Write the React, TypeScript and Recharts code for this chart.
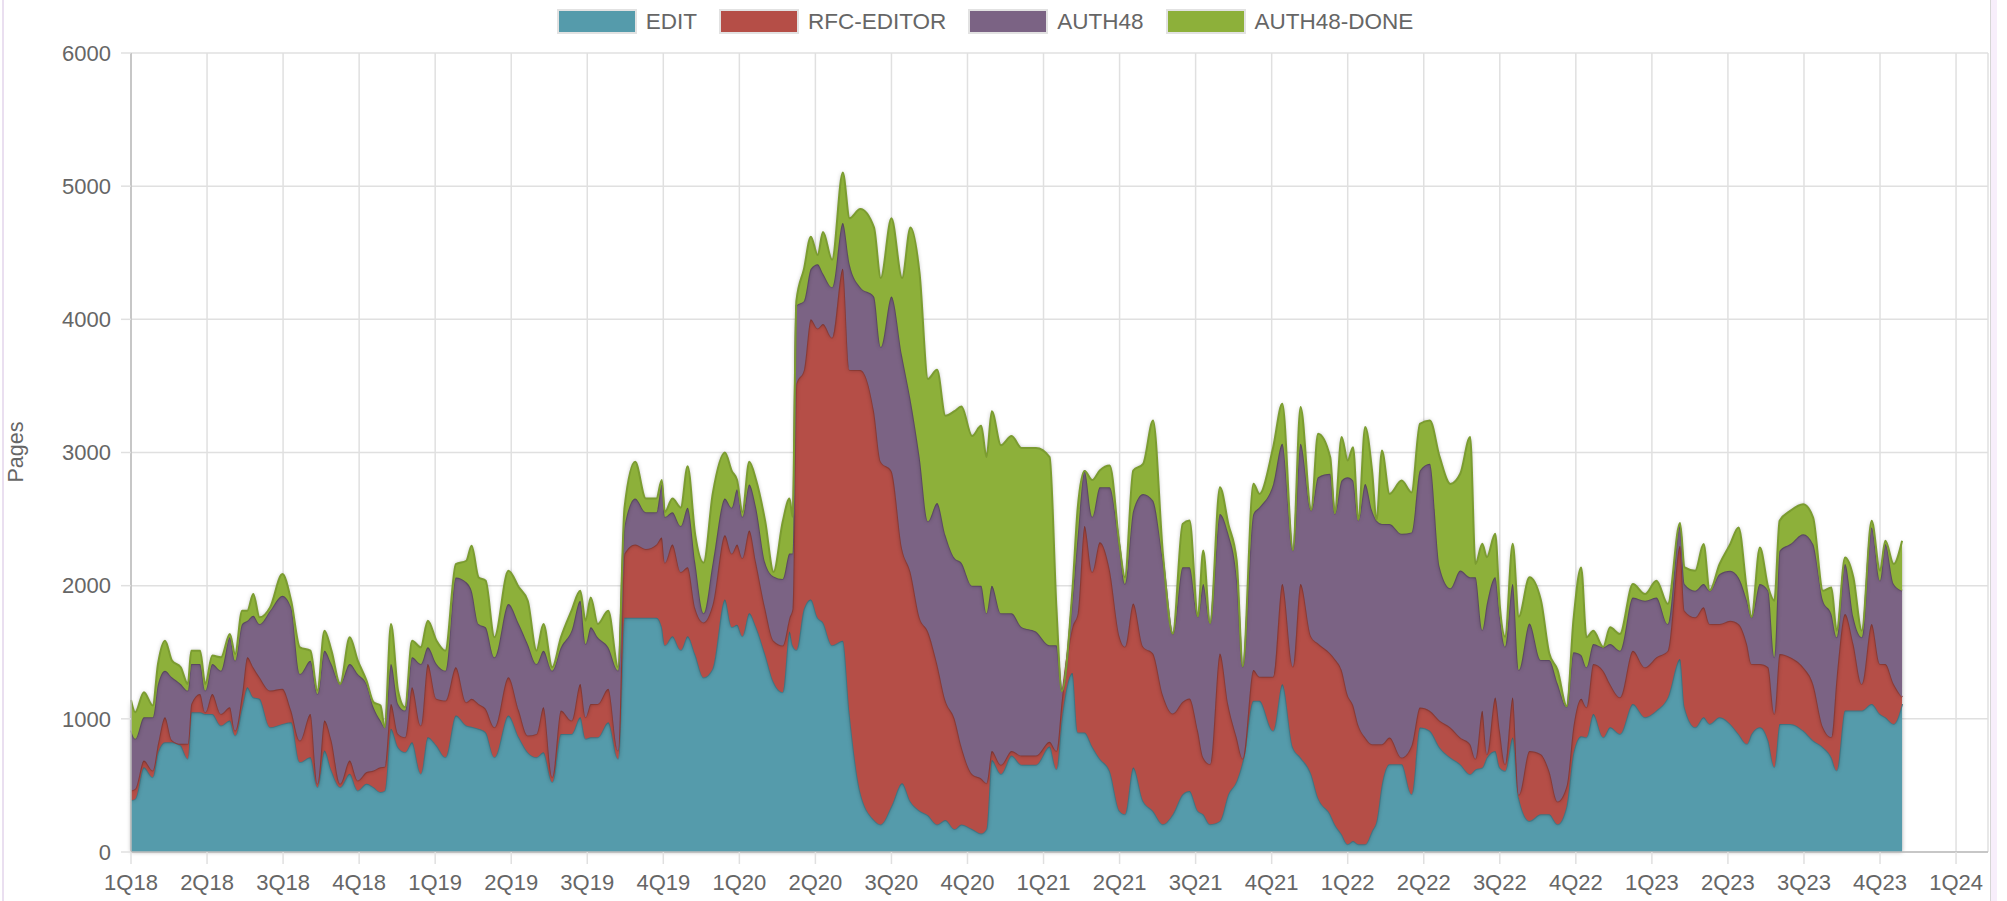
import React from "react";
import { AreaChart, Area, XAxis, YAxis, CartesianGrid } from "recharts";

// position of each sample, in quarters counted from 1Q18
const weekPos = [
  0, 0.055, 0.17, 0.286, 0.355, 0.447, 0.539, 0.654, 0.747, 0.793,
  0.908, 0.977, 1.069, 1.184, 1.3, 1.369, 1.461, 1.53, 1.608, 1.691,
  1.829, 1.991, 2.106, 2.221, 2.359, 2.452, 2.544, 2.636, 2.751, 2.876,
  2.982, 3.097, 3.189, 3.281, 3.336, 3.419, 3.512, 3.604, 3.696, 3.811,
  3.903, 4.018, 4.134, 4.272, 4.41, 4.479, 4.571, 4.664, 4.779, 4.963,
  5.101, 5.217, 5.332, 5.424, 5.539, 5.654, 5.793, 5.908, 5.977, 6.046,
  6.138, 6.276, 6.406,
  6.49, 6.63, 6.77, 6.91, 6.98, 7.02, 7.12, 7.23, 7.32, 7.42,
  7.53, 7.65, 7.81, 7.9, 7.97, 8.04, 8.13, 8.22, 8.34, 8.45,
  8.57, 8.66, 8.7, 8.75, 8.85, 8.94, 9.03, 9.1, 9.22, 9.36,
  9.45, 9.59, 9.77, 9.86, 10, 10.14, 10.25, 10.37, 10.48, 10.6,
  10.71, 10.83, 10.92, 11.06, 11.18, 11.25, 11.32, 11.44, 11.58, 11.71,
  11.9, 12.08, 12.17, 12.24, 12.38, 12.45, 12.54, 12.64,
  12.74, 12.87, 13, 13.07, 13.18, 13.31, 13.44, 13.57, 13.7, 13.83,
  13.92, 14.03, 14.1, 14.19, 14.32, 14.43, 14.54, 14.62, 14.76, 14.84,
  15.02, 15.14, 15.28, 15.38, 15.52, 15.61, 15.77, 15.83, 15.92, 16,
  16.07, 16.14, 16.23, 16.32, 16.38, 16.45, 16.55, 16.71, 16.84, 16.95,
  17.08, 17.21, 17.35, 17.48, 17.61, 17.68, 17.77, 17.83, 17.94, 18,
  18.07, 18.17, 18.25, 18.39, 18.54, 18.65,
  18.76, 18.88, 18.97, 19.07, 19.14, 19.23, 19.36, 19.45, 19.58, 19.75,
  19.91, 20.06, 20.21, 20.37, 20.43, 20.57, 20.68, 20.76, 20.89, 21.03,
  21.14, 21.25, 21.31, 21.42, 21.53, 21.61, 21.68, 21.82, 21.99, 22.12,
  22.25, 22.36, 22.43, 22.54, 22.65, 22.76, 22.89, 23, 23.07, 23.18,
  23.29,
];

const edit = [
  388, 400, 637, 562, 750, 825, 825, 800, 700, 1050,
  1050, 1037, 1037, 950, 987, 875, 1087, 1237, 1162, 1150,
  937, 962, 975, 675, 712, 487, 762, 612, 487, 587,
  462, 512, 487, 450, 460, 925, 787, 750, 825, 587,
  862, 800, 712, 1025, 950, 940, 925, 900, 712, 1025,
  862, 750, 712, 750, 525, 887, 887, 1012, 850, 862,
  862, 975, 700,
  1759, 1759, 1759, 1759, 1690, 1552, 1621, 1517, 1621, 1483,
  1310, 1379, 1897, 1690, 1707, 1621, 1793, 1690, 1483, 1276,
  1200, 1655, 1552, 1517, 1828, 1897, 1759, 1724, 1552, 1586,
  1034, 448, 241, 207, 345, 517, 379, 310, 276, 207,
  241, 172, 207, 172, 138, 172, 690, 586, 724, 655,
  655, 793, 621, 1000, 1345, 897, 897, 793,
  700, 609, 308, 283, 634, 383, 308, 208, 283, 433,
  458, 308, 283, 208, 233, 433, 534, 684, 1135, 1135,
  910, 1260, 784, 709, 584, 408, 283, 208, 133, 58,
  83, 58, 58, 158, 233, 509, 659, 659, 433, 935,
  910, 784, 709, 659, 584, 620, 634, 709, 759, 634,
  609, 860, 408, 233, 283, 283,
  208, 350, 750, 870, 862, 1037, 862, 937, 887, 1112,
  1012, 1062, 1162, 1450, 1087, 937, 1012, 962, 1012, 962,
  887, 812, 887, 937, 837, 637, 962, 962, 912, 837,
  787, 712, 612, 1062, 1062, 1062, 1112, 1037, 1012, 962,
  1112,
];

const rfcEditor = [
  74, 75, 50, 50, 62, 187, 15, 12, 112, 62,
  137, 13, 150, 87, 100, 37, 100, 225, 225, 162,
  275, 263, 87, 162, 325, 25, 225, 225, 25, 100,
  75, 88, 125, 187, 180, 187, 100, 112, 412, 363,
  550, 350, 425, 362, 175, 210, 187, 175, 225, 287,
  200, 125, 175, 337, 37, 175, 100, 250, 162, 250,
  250, 250, 62,
  482, 551, 517, 551, 672, 620, 689, 586, 517, 345,
  414, 483, 482, 551, 603, 586, 621, 482, 345, 310,
  350, 104, 276, 2000, 1792, 2103, 2172, 2241, 2310, 2793,
  2586, 3172, 3069, 2724, 2517, 1759, 1724, 1449, 1379, 1207,
  897, 828, 586, 414, 414, 345, 69, 69, 35, 69,
  69, 35, 138, 138, 345, 896, 1551, 1310,
  1626, 1511, 1309, 1259, 1233, 1159, 1183, 970, 757, 695,
  695, 602, 426, 451, 1258, 670, 326, 16, 231, 181,
  406, 753, 607, 1304, 1033, 1158, 1208, 1242, 1233, 1120,
  1020, 894, 802, 652, 577, 301, 201, 50, 367, 150,
  150, 201, 226, 201, 226, 80, 426, 25, 401, 276,
  50, 300, 22, 526, 451, 326,
  172, 150, 200, 280, 225, 375, 500, 325, 275, 400,
  375, 400, 350, 850, 725, 825, 825, 750, 700, 775,
  825, 750, 525, 475, 550, 400, 525, 500, 475, 425,
  150, 150, 700, 725, 500, 200, 600, 375, 400, 300,
  50,
];

const auth48 = [
  450, 375, 325, 400, 450, 350, 472, 450, 400, 300,
  225, 162, 225, 325, 525, 525, 525, 275, 388, 400,
  600, 700, 775, 500, 400, 675, 525, 575, 750, 725,
  800, 662, 475, 350, 297, 300, 225, 200, 225, 462,
  125, 262, 225, 675, 900, 812, 600, 612, 525, 550,
  650, 687, 525, 425, 800, 475, 675, 625, 550, 575,
  500, 312, 600,
  207, 345, 276, 242, 397, 345, 242, 345, 448, 344,
  69, 310, 276, 345, 414, 310, 345, 414, 344, 483,
  500, 482, 413, 586, 518, 379, 483, 380, 379, 345,
  794, 621, 862, 862, 1310, 1448, 1297, 1207, 828, 1207,
  1241, 1207, 1379, 1414, 1448, 1276, 1241, 1138, 1034, 966,
  931, 724, 793, 69, 207, 586, 414, 414,
  413, 619, 671, 471, 697, 1147, 1148, 1010, 596, 1010,
  985, 857, 1304, 1057, 1048, 1286, 1203, 691, 1173, 1273,
  1448, 1052, 873, 1052, 947, 1249, 1349, 1089, 1424, 1637,
  1687, 1537, 1904, 1754, 1679, 1654, 1604, 1680, 1600, 1780,
  1855, 1153, 1045, 1253, 1253, 1363, 606, 1132, 903, 857,
  882, 853, 936, 957, 707, 832,
  885, 590, 550, 330, 300, 150, 175, 300, 350, 400,
  500, 450, 200, 150, 200, 200, 175, 250, 375, 375,
  350, 325, 350, 600, 575, 425, 775, 850, 1000, 1050,
  950, 925, 300, 375, 200, 350, 725, 625, 900, 750,
  800,
];

const auth48Done = [
  230, 200, 188, 88, 150, 225, 125, 125, 50, 100,
  100, 50, 63, 100, 25, 50, 100, 75, 162, 50,
  25, 162, 50, 200, 75, 25, 150, 100, 0, 200,
  100, 25, 38, 113, 0, 300, 100, 25, 125, 125,
  200, 175, 150, 100, 162, 338, 350, 350, 150, 250,
  275, 325, 100, 200, 25, 75, 150, 75, 175, 225,
  100, 275, 25,
  138, 276, 103, 103, 34, 35, 103, 138, 311, 207,
  379, 518, 345, 276, 69, 35, 172, 207, 311, 34,
  430, 414, 276, 35, 241, 242, 69, 310, 207, 379,
  345, 587, 518, 517, 587, 586, 1290, 1379, 1069, 1000,
  897, 1103, 1173, 1124, 1200, 1173, 1310, 1262, 1331, 1344,
  1379, 1414, 276, 0, 69, 207, 0, 276,
  126, 163, 12, 50, 301, 226, 601, 50, 5, 326,
  351, 3, 251, 4, 200, 75, 125, 4, 226, 100,
  276, 301, 4, 276, 6, 326, 125, 6, 326, 125,
  250, 6, 427, 301, 6, 551, 225, 401, 300, 351,
  326, 827, 784, 727, 1053, 100, 648, 347, 326, 83,
  75, 301, 401, 347, 451, 51,
  101, 5, 250, 657, 225, 100, 3, 125, 125, 100,
  50, 125, 150, 20, 125, 150, 300, 3, 75, 200,
  375, 75, 3, 275, 25, 425, 225, 250, 225, 200,
  75, 200, 50, 50, 300, 50, 50, 75, 25, 150,
  375,
];

const quarterLabels = [
  "1Q18", "2Q18", "3Q18", "4Q18", "1Q19", "2Q19", "3Q19", "4Q19",
  "1Q20", "2Q20", "3Q20", "4Q20", "1Q21", "2Q21", "3Q21", "4Q21",
  "1Q22", "2Q22", "3Q22", "4Q22", "1Q23", "2Q23", "3Q23", "4Q23", "1Q24",
];
const yTicks = [0, 1000, 2000, 3000, 4000, 5000, 6000];

const series = [
  { key: "EDIT", values: edit, fill: "#559bab", stroke: "#4a8898" },
  { key: "RFC-EDITOR", values: rfcEditor, fill: "#b54e47", stroke: "#9f433d" },
  { key: "AUTH48", values: auth48, fill: "#7b6384", stroke: "#6a5473" },
  { key: "AUTH48-DONE", values: auth48Done, fill: "#8db03a", stroke: "#7b9c30" },
];

const data = weekPos.map((q, i) => {
  const row: Record<string, number> = { q };
  series.forEach((s) => {
    row[s.key] = s.values[i];
  });
  return row;
});

const font = '"Liberation Sans", Arial, Helvetica, sans-serif';

function PagesLabel() {
  return (
    <text
      x={16}
      y={452}
      transform="rotate(-90 16 452)"
      textAnchor="middle"
      dominantBaseline="central"
      fill="#666"
      fontSize={21.5}
      fontFamily={font}
    >
      Pages
    </text>
  );
}

export default function App() {
  return (
    <div
      style={{
        position: "absolute",
        left: 0,
        top: 0,
        width: 2007,
        height: 901,
        background: "#fff",
        fontFamily: font,
        overflow: "hidden",
      }}
    >
      <style>{`.recharts-area-area{filter:drop-shadow(0 0 2px rgba(0,0,0,0.32));}`}</style>
      <div style={{ position: "absolute", left: 2, top: 0, width: 2, height: 901, background: "#eadff0" }} />
      <div style={{ position: "absolute", left: 1990, top: 0, width: 1, height: 901, background: "#d6d6d6" }} />
      <div style={{ position: "absolute", left: 1991, top: 0, width: 6, height: 901, background: "#f7eefb" }} />

      <div
        style={{
          position: "absolute",
          left: 0,
          top: 9,
          width: 1970,
          display: "flex",
          justifyContent: "center",
          gap: 22,
          color: "#666",
          fontSize: 22.5,
        }}
      >
        {series.map((s) => (
          <div key={s.key} style={{ display: "flex", alignItems: "center", gap: 9 }}>
            <div
              style={{
                width: 76,
                height: 21,
                background: s.fill,
                border: "2px solid #e2e2e2",
              }}
            />
            <span style={{ lineHeight: "25px" }}>{s.key}</span>
          </div>
        ))}
      </div>

      <AreaChart
        width={2007}
        height={901}
        data={data}
        margin={{ top: 53, right: 19, bottom: 0, left: 0 }}
        style={{ position: "absolute", left: 0, top: 0 }}
      >
        <CartesianGrid stroke="#e0e0e0" strokeWidth={1.5} />
        <XAxis
          type="number"
          dataKey="q"
          domain={[0, 24.42]}
          ticks={quarterLabels.map((_, i) => i)}
          interval={0}
          tickFormatter={(v) => quarterLabels[v] ?? ""}
          height={49}
          tickSize={12}
          tickMargin={10}
          tick={{ fill: "#666", fontSize: 22, fontFamily: font }}
          axisLine={{ stroke: "#bdbdbd", strokeWidth: 1.5 }}
          tickLine={{ stroke: "#e0e0e0", strokeWidth: 1.5 }}
        />
        <YAxis
          type="number"
          domain={[0, 6000]}
          ticks={yTicks}
          interval={0}
          width={131}
          tickSize={10}
          tickMargin={10}
          tick={{ fill: "#666", fontSize: 22, fontFamily: font }}
          axisLine={{ stroke: "#bdbdbd", strokeWidth: 1.5 }}
          tickLine={{ stroke: "#e0e0e0", strokeWidth: 1.5 }}
          label={{ content: () => <PagesLabel /> }}
        />
        {series.map((s) => (
          <Area
            key={s.key}
            type="monotone"
            dataKey={s.key}
            stackId="pages"
            fill={s.fill}
            fillOpacity={1}
            stroke={s.stroke}
            strokeWidth={2}
            dot={false}
            activeDot={false}
            isAnimationActive={false}
          />
        ))}
      </AreaChart>
    </div>
  );
}
